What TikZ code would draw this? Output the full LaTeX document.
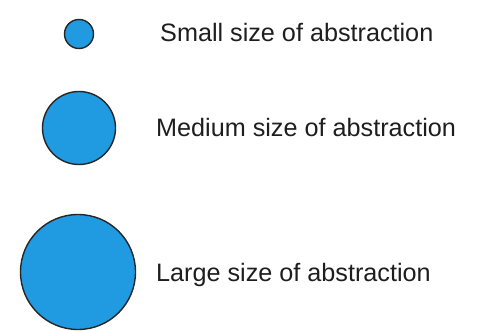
\documentclass[tikz,border=0pt]{standalone}
\usepackage{fontspec}
\setmainfont{Liberation Sans}
\definecolor{absblue}{RGB}{32,154,224}
\definecolor{lbl}{RGB}{30,30,30}
\begin{document}
\begin{tikzpicture}[x=1pt,y=-1pt,
  abs/.style={circle,draw=black!85,line width=1.4pt,fill=absblue,inner sep=0pt},
  lab/.style={anchor=base west,inner sep=0pt,text=lbl,font=\fontsize{25.2}{29}\selectfont}]
\useasboundingbox (0,0) rectangle (487,331);
\node[abs,minimum size=29pt] (s) at (79,34) {};
\node[abs,minimum size=73pt] (m) at (79,128) {};
\node[abs,minimum size=115pt] (l) at (78,272) {};
\node[lab] (ts) at (160,42) {Small size of abstraction};
\node[lab] (tm) at (156,137) {Medium size of abstraction};
\node[lab] (tl) at (156,281) {Large size of abstraction};
\end{tikzpicture}
\end{document}
